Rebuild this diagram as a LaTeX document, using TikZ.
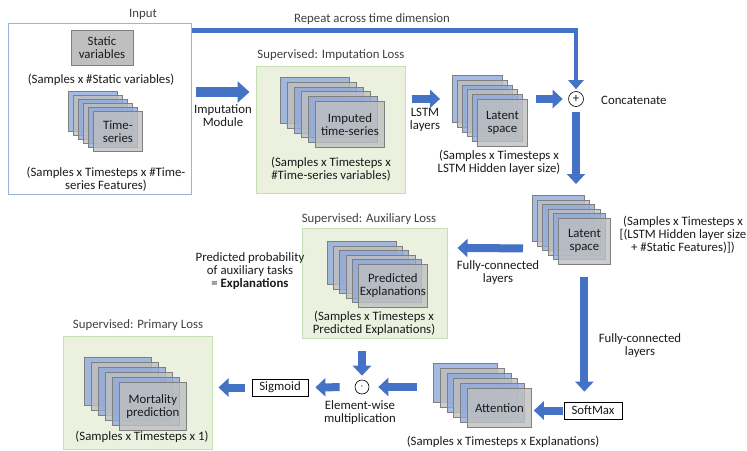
\documentclass[tikz,border=0pt]{standalone}
\usepackage{fontspec}
\setmainfont{Carlito}
\usetikzlibrary{arrows.meta}
\definecolor{stblue}{HTML}{8FAADC}
\definecolor{stgray}{HTML}{BFBFBF}
\definecolor{stedge}{HTML}{7F7F7F}
\definecolor{arrowblue}{HTML}{4472C4}
\definecolor{greenfill}{HTML}{EBF1DE}
\definecolor{greenedge}{HTML}{C5E0B4}
\definecolor{inedge}{HTML}{9DB3DD}
\definecolor{txt}{HTML}{1A1A1A}
\definecolor{ttl}{HTML}{404040}
\newcommand{\mystack}[8]{%
  \foreach \i/\c in {0/stblue,1/stgray,2/stblue,3/stgray,4/stblue}{%
    \node[stackrect, fill=\c, minimum width=#4pt, minimum height=#5pt] (#1-\i) at ({#2+\i*#6},{#3+\i*#7}) {};
  }
  \node[stackrect, fill=stgray, minimum width=#4pt, minimum height=#5pt] (#1) at ({#2+5*#6},{#3+5*#7}) {#8};
}
\begin{document}
\begin{tikzpicture}[x=1pt,y=-1pt,
  font=\fontsize{12.8}{13}\selectfont,
  every node/.style={text=txt},
  lbl/.style={align=center, inner sep=0pt},
  ttlbl/.style={align=center, inner sep=0pt, text=ttl},
  stackrect/.style={anchor=north west, draw=stedge, line width=0.8pt, fill opacity=0.8, text opacity=1, inner sep=0pt, align=center},
  greenbox/.style={draw=greenedge, fill=greenfill, line width=1pt, inner sep=0pt},
  opbox/.style={draw=black, line width=0.8pt, fill=white, inner sep=0pt, minimum height=17pt},
  opcirc/.style={circle, draw=black, line width=0.6pt, fill=white, inner sep=0pt, minimum size=15pt},
  barrow/.style={draw=arrowblue, line width=8pt, -{Triangle[length=10pt,width=18pt]}},
  bigarrow/.style={draw=arrowblue, line width=10pt, -{Triangle[length=12pt,width=21pt]}},
  thinarrow/.style={draw=arrowblue, line width=4.5pt, -{Triangle[length=9pt,width=15pt]}}
]
\useasboundingbox (0,0) rectangle (747,450);

% ---------- Input ----------
\node[draw=inedge, line width=1pt, minimum width=183pt, minimum height=171pt, inner sep=0pt] (inbox) at (99.5,108.5) {};
\node[ttlbl] (intitle) at (143,14) {Input};
\node[draw=stedge, fill=stgray, line width=0.8pt, minimum width=62pt, minimum height=35pt, inner sep=0pt, align=center] (static) at (102,47.5) {Static\\variables};
\node[lbl] (capstatic) at (101,80) {(Samples x \#Static variables)};
\mystack{ts}{68}{91}{49}{40}{5}{4}{Time-\\series}
\node[lbl] (capts) at (106,179) {(Samples x Timesteps x \#Time-\\series Features)};

% ---------- Imputation ----------
\node[greenbox, minimum width=149pt, minimum height=127pt] (impbox) at (330.5,129.5) {};
\node[ttlbl] (imptitle) at (331,55) {Supervised: Imputation Loss};
\mystack{imp}{280}{77}{69}{46}{7}{4.8}{Imputed\\time-series}
\node[lbl] (capimp) at (331,169) {(Samples x Timesteps x\\\#Time-series variables)};
\node[lbl] (implbl) at (223,115.5) {Imputation\\Module};

% ---------- Latent 1 ----------
\mystack{lat}{452}{75}{50}{47}{5}{4.8}{Latent\\space}
\node[lbl] (caplat) at (499,162.5) {(Samples x Timesteps x\\LSTM Hidden layer size)};
\node[lbl] (lstmlbl) at (425,120) {LSTM\\layers};
\node[opcirc] (plus) at (576,99) {+};
\node[lbl, anchor=west] (concat) at (601,100) {Concatenate};
\node[ttlbl] (reptitle) at (372,19) {Repeat across time dimension};

% ---------- Latent 2 ----------
\mystack{latb}{532}{195}{52}{46}{5.2}{4.6}{Latent\\space}
\node[lbl] (caplatb) at (683,235) {(Samples x Timesteps x\\{}[(LSTM Hidden layer size\\+ \#Static Features)])};
\node[lbl] (fclbl) at (498,273) {Fully-connected\\layers};
\node[lbl] (fclblb) at (640,346) {Fully-connected\\layers};

% ---------- Auxiliary ----------
\node[greenbox, minimum width=145pt, minimum height=110pt] (aux) at (374.5,283) {};
\node[ttlbl] (auxtitle) at (369,219) {Supervised: Auxiliary Loss};
\mystack{pred}{327}{241}{69}{43}{6.2}{4.6}{Predicted\\Explanations}
\node[lbl] (cappred) at (374,323) {(Samples x Timesteps x\\Predicted Explanations)};
\node[lbl] (problbl) at (250,271) {Predicted probability\\of auxiliary tasks\\= \textbf{Explanations}};

% ---------- Attention ----------
\node[opbox, minimum width=58pt] (softmax) at (593,410.5) {SoftMax};
\mystack{attn}{433}{363}{64}{39}{6.8}{5}{Attention}
\node[lbl] (capattn) at (503,442) {(Samples x Timesteps x Explanations)};
\node[opcirc, minimum size=14pt] (dot) at (362,387) {$\cdot$};
\node[lbl] (ewlbl) at (360,412.5) {Element-wise\\multiplication};
\node[opbox, minimum width=56pt] (sigmoid) at (280,387.5) {Sigmoid};

% ---------- Primary ----------
\node[greenbox, minimum width=149pt, minimum height=113pt] (primary) at (137.5,392.5) {};
\node[ttlbl] (primtitle) at (138,325) {Supervised: Primary Loss};
\mystack{mort}{84}{357}{67}{48}{7}{5}{Mortality\\prediction}
\node[lbl] (capmort) at (142,437) {(Samples x Timesteps x 1)};

% ---------- Connectors ----------
\draw[thinarrow, shorten >=2pt] ([yshift=-8pt]inbox.north east) -| (plus.north);
\draw[bigarrow, shorten <=4pt, shorten >=6pt] ([yshift=16.5pt]inbox.east) -- ([yshift=37.5pt]impbox.west);
\draw[barrow, shorten <=6pt, shorten >=12pt] (impbox.east |- lat-0.west) -- (lat-0.west);
\draw[barrow, shorten <=8pt, shorten >=5.5pt] (lat.east |- plus.west) -- (plus.west);
\draw[barrow, shorten <=5pt, shorten >=11pt] (plus.south) -- (plus.south |- latb-0.north);
\draw[barrow, shorten <=9pt, shorten >=10pt] ([yshift=-30pt]latb-0.west) -- ([yshift=35pt]aux.east);
\draw[barrow, shorten <=12pt, shorten >=10pt] (latb.south) -- (latb.south |- softmax.north);
\draw[barrow, shorten <=1pt, shorten >=2pt] (softmax.west) -- (softmax.west -| attn.east);
\draw[barrow, shorten <=16pt, shorten >=9pt] (attn-0.west |- dot.west) -- (dot.east);
\draw[barrow, shorten <=12pt, shorten >=4pt] (aux.south -| dot.north) -- (dot.north);
\draw[barrow, shorten <=15pt, shorten >=7pt] (dot.west) -- (sigmoid.east);
\draw[barrow, shorten <=7pt, shorten >=6pt] (sigmoid.west) -- (sigmoid.west -| primary.east);
\end{tikzpicture}
\end{document}
